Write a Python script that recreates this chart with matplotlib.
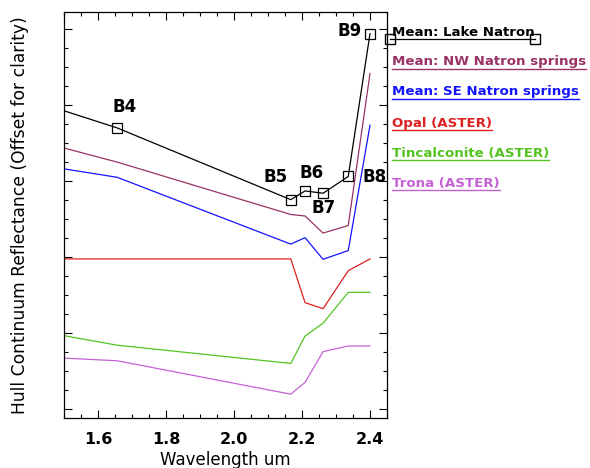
import matplotlib
matplotlib.use("Agg")
import matplotlib.pyplot as plt
from matplotlib.lines import Line2D
from matplotlib.ticker import MultipleLocator, NullFormatter

# ASTER SWIR band centres (B3 lies off the left edge of the view)
bands = ["B3", "B4", "B5", "B6", "B7", "B8", "B9"]
wavelength = [0.807, 1.656, 2.167, 2.209, 2.262, 2.336, 2.400]

# Hull continuum reflectance, offset for clarity
lake_natron = [0.985, 0.740, 0.551, 0.574, 0.568, 0.612, 0.988]
nw_springs = [0.851, 0.650, 0.512, 0.508, 0.463, 0.483, 0.883]
se_springs = [0.730, 0.610, 0.434, 0.451, 0.394, 0.417, 0.747]
opal = [0.395, 0.395, 0.395, 0.280, 0.264, 0.364, 0.395]
tincalconite = [0.304, 0.168, 0.120, 0.192, 0.226, 0.307, 0.307]
trona = [0.165, 0.127, 0.039, 0.070, 0.151, 0.166, 0.166]

labels = ["Mean: Lake Natron", "Mean: NW Natron springs", "Mean: SE Natron springs",
          "Opal (ASTER)", "Tincalconite (ASTER)", "Trona (ASTER)"]
colors = ["black", "#993366", "#1414ff", "#dd2020", "#55c422", "#c462d4"]
series = [lake_natron, nw_springs, se_springs, opal, tincalconite, trona]

W, H = 590, 468
fig = plt.figure(figsize=(W / 100, H / 100), dpi=100)
ax = fig.add_axes([64 / W, 1 - 418 / H, (387 - 64) / W, (418 - 12) / H])

for vals, col in zip(series, colors):
    ax.plot(wavelength, vals, color=col, lw=0.9)

# black line gets band markers
ax.plot(wavelength[1:], lake_natron[1:], ls="none", marker="s", ms=6.5,
        mfc="none", mec="black", mew=0.9)

# band labels (offset in pixels from the point)
offsets = {"B4": (8, 21), "B5": (-15, 23), "B6": (7, 18), "B7": (1, -15),
           "B8": (26, -1), "B9": (-20, 3)}
for b, x, y in zip(bands, wavelength, lake_natron):
    if b in offsets:
        ax.annotate(b, (x, y), xytext=offsets[b], textcoords="offset pixels",
                    ha="center", va="center", fontsize=12, fontweight="bold")

ax.set_xlim(1.5, 2.45)
ax.set_ylim(-0.0237, 1.045)
ax.xaxis.set_major_locator(MultipleLocator(0.2))
ax.xaxis.set_minor_locator(MultipleLocator(0.05))
ax.yaxis.set_major_locator(MultipleLocator(0.2))
ax.yaxis.set_minor_locator(MultipleLocator(0.05))
ax.yaxis.set_major_formatter(NullFormatter())
ax.tick_params(which="both", direction="in", top=True, right=True, width=0.8)
ax.tick_params(which="major", length=6)
ax.tick_params(which="minor", length=3)
ax.tick_params(axis="x", labelsize=11.5, pad=10)
for lb in ax.get_xticklabels():
    lb.set_fontweight("bold")
ax.set_xlabel("Wavelength um", fontsize=12, labelpad=3)
ax.set_ylabel("Hull Continuum Reflectance (Offset for clarity)", fontsize=12.3, labelpad=22)
for s in ax.spines.values():
    s.set_linewidth(0.9)

# IDL-style legend on the right: coloured text with a line underneath
texts = []
ys = [32, 62, 92, 123, 153, 183]
for lab, col, yp in zip(labels, colors, ys):
    t = fig.text(392 / W, 1 - yp / H, lab, color=col, fontsize=9.6,
                 fontweight="bold", ha="left", va="center")
    texts.append((t, col, yp))

fig.canvas.draw()
r = fig.canvas.get_renderer()
for i, (t, col, yp) in enumerate(texts):
    bb = t.get_window_extent(r)
    x0, x1 = bb.x0 / W, bb.x1 / W
    yl = 1 - (yp + 7) / H
    if i == 0:
        fig.add_artist(Line2D([390 / W, x1], [yl, yl], color=col, lw=0.9,
                              marker="s", ms=6.5, mfc="none", mec=col,
                              transform=fig.transFigure))
    else:
        fig.add_artist(Line2D([x0, x1], [yl, yl], color=col, lw=1.0,
                              transform=fig.transFigure))

fig.savefig("out.png", dpi=100)
